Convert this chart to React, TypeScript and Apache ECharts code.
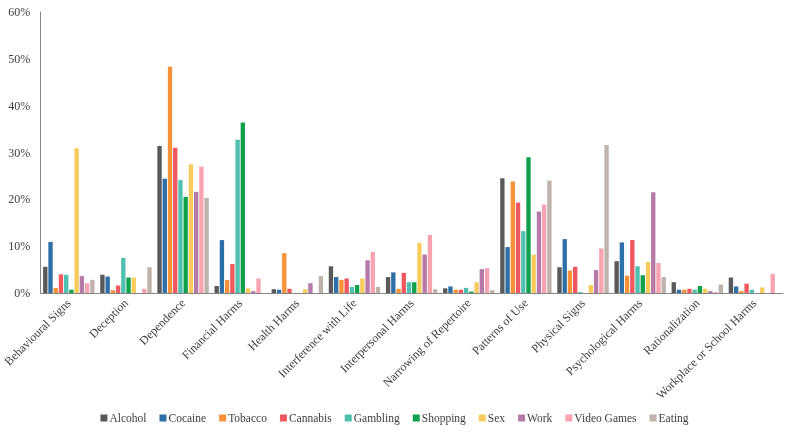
import React, { useEffect, useRef } from "react";
import * as echarts from "echarts";

const categories = [
  "Behavioural Signs",
  "Deception",
  "Dependence",
  "Financial Harms",
  "Health Harms",
  "Interference with Life",
  "Interpersonal Harms",
  "Narrowing of Repertoire",
  "Patterns of Use",
  "Physical Signs",
  "Psychological Harms",
  "Rationalization",
  "Workplace or School Harms",
];

const seriesNames = ["Alcohol", "Cocaine", "Tobacco", "Cannabis", "Gambling", "Shopping", "Sex", "Work", "Video Games", "Eating"];

const alcohol = [5.6, 3.9, 31.4, 1.5, 0.8, 5.7, 3.4, 1.0, 24.5, 5.5, 6.8, 2.3, 3.3];
const cocaine = [10.9, 3.5, 24.4, 11.3, 0.7, 3.4, 4.4, 1.4, 9.8, 11.5, 10.8, 0.7, 1.4];
const tobacco = [1.1, 0.6, 48.3, 2.8, 8.5, 2.8, 0.9, 0.7, 23.8, 4.8, 3.7, 0.7, 0.4];
const cannabis = [4.0, 1.6, 31.0, 6.2, 0.9, 3.1, 4.3, 0.7, 19.3, 5.6, 11.3, 0.9, 2.0];
const gambling = [3.9, 7.5, 24.1, 32.7, 0, 1.3, 2.3, 1.1, 13.2, 0.2, 5.7, 0.7, 0.7];
const shopping = [0.7, 3.3, 20.5, 36.4, 0, 1.7, 2.3, 0.3, 29.0, 0, 3.8, 1.5, 0];
const sex = [30.9, 3.3, 27.5, 1.0, 0.8, 3.1, 10.7, 2.3, 8.2, 1.7, 6.6, 0.9, 1.2];
const work = [3.6, 0, 21.6, 0.4, 2.1, 7.0, 8.2, 5.1, 17.4, 4.9, 21.5, 0.4, 0];
const videoGames = [2.1, 0.9, 27.0, 3.1, 0, 8.8, 12.4, 5.3, 18.9, 9.5, 6.4, 0.2, 4.1];
const eating = [2.8, 5.5, 20.3, 0, 3.6, 1.3, 0.8, 0.6, 24.0, 31.6, 3.4, 1.8, 0];

const seriesData = [alcohol, cocaine, tobacco, cannabis, gambling, shopping, sex, work, videoGames, eating];
const colors = ["#595959", "#2e6fa7", "#f79239", "#f0585f", "#4fbfb0", "#10a04d", "#f8cc5c", "#b67aa8", "#f9a3b2", "#bfb2ac"];

const yTicks = [0, 10, 20, 30, 40, 50, 60];

const FONT = "'Liberation Serif', 'Times New Roman', serif";

export default function App() {
  const ref = useRef<HTMLDivElement>(null);
  useEffect(() => {
    if (!ref.current) return;
    const chart = echarts.init(ref.current, null, { renderer: "svg" });
    chart.setOption({
      animation: false,
      color: colors,
      textStyle: { fontFamily: FONT },
      grid: { left: 40, right: 6, top: 12, bottom: 139, containLabel: false },
      legend: {
        bottom: 3,
        left: "center",
        itemWidth: 7,
        itemHeight: 7,
        itemGap: 13,
        icon: "rect",
        textStyle: { fontFamily: FONT, fontSize: 11.5, color: "#404040", padding: [0, 0, 0, -3] },
        data: seriesNames,
      },
      xAxis: {
        type: "category",
        data: categories,
        axisLine: { lineStyle: { color: "#868686", width: 1 } },
        axisTick: { show: false },
        axisLabel: {
          rotate: 45,
          interval: 0,
          margin: 8,
          fontFamily: FONT,
          fontSize: 12,
          color: "#404040",
        },
      },
      yAxis: {
        type: "value",
        min: yTicks[0],
        max: yTicks[yTicks.length - 1],
        interval: 10,
        axisLine: { show: true, lineStyle: { color: "#868686", width: 1 } },
        axisTick: { show: false },
        splitLine: { show: false },
        axisLabel: {
          formatter: "{value}%",
          fontFamily: FONT,
          fontSize: 12,
          color: "#404040",
          margin: 10,
        },
      },
      series: seriesNames.map((name, i) => ({
        name,
        type: "bar",
        data: seriesData[i],
        barGap: "20%",
        barCategoryGap: "10%",
        itemStyle: { color: colors[i] },
      })),
    });
    return () => chart.dispose();
  }, []);
  return <div ref={ref} style={{ position: "fixed", left: 0, top: 0, width: 789, height: 432 }} />;
}
